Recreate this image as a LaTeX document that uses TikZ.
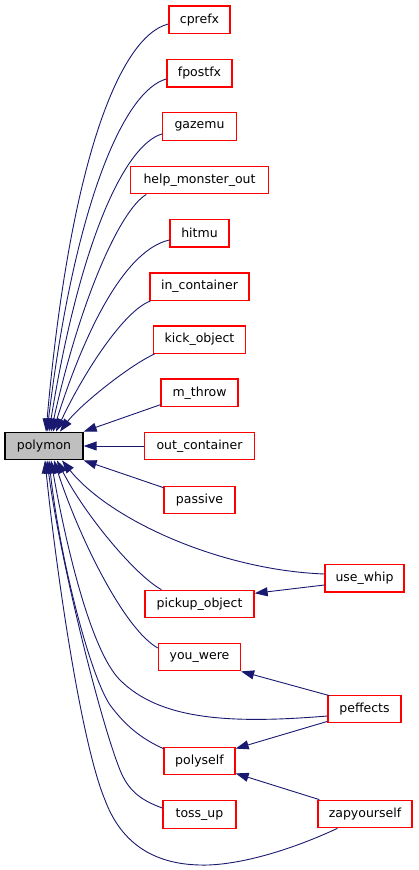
\documentclass[tikz,border=0pt]{standalone}
\usepackage{fontspec}
\setmainfont{DejaVu Sans}
\usetikzlibrary{arrows.meta}
\definecolor{edgeblue}{HTML}{191970}
\definecolor{boxred}{HTML}{FF0000}
\definecolor{rootgray}{HTML}{BFBFBF}
\tikzset{
  fn/.style={draw=boxred, line width=1.3pt, fill=white, minimum height=27.5pt, inner sep=0pt,
    font=\fontsize{12.5}{15}\selectfont},
  root/.style={fn, draw=black, fill=rootgray},
  edge/.style={draw=edgeblue, line width=0.9pt, {Triangle[length=13pt,width=9pt]}-},
}
\begin{document}
\begin{tikzpicture}[x=1pt,y=-1pt]
\useasboundingbox (0,0) rectangle (419,870);
\node[root, minimum width=78pt] (polymon) at (44,446) {polymon};
\node[fn, minimum width=61pt] (cprefx) at (199.5,19.7) {cprefx};
\node[fn, minimum width=65pt] (fpostfx) at (199.5,73.3) {fpostfx};
\node[fn, minimum width=74pt] (gazemu) at (199.5,126.5) {gazemu};
\node[fn, minimum width=138pt] (help) at (199.5,180) {help\_monster\_out};
\node[fn, minimum width=59pt] (hitmu) at (199.5,233.2) {hitmu};
\node[fn, minimum width=99pt] (incont) at (199.5,286.7) {in\_container};
\node[fn, minimum width=92pt] (kick) at (199.5,339.7) {kick\_object};
\node[fn, minimum width=77pt] (mthrow) at (199.5,392.8) {m\_throw};
\node[fn, minimum width=110pt] (outcont) at (199.5,446) {out\_container};
\node[fn, minimum width=71pt] (passive) at (199.5,500) {passive};
\node[fn, minimum width=79pt] (usewhip) at (364.5,578.3) {use\_whip};
\node[fn, minimum width=109pt] (pickup) at (199.5,604) {pickup\_object};
\node[fn, minimum width=82pt] (youwere) at (199.5,657) {you\_were};
\node[fn, minimum width=73pt] (peffects) at (364.5,709) {peffects};
\node[fn, minimum width=71pt] (polyself) at (199.5,761) {polyself};
\node[fn, minimum width=73pt] (tossup) at (199.5,814.5) {toss\_up};
\node[fn, minimum width=94pt] (zap) at (365,814) {zapyourself};

% upper fan
\draw[edge] ([xshift=2pt]polymon.north) .. controls (70,160) and (120,36) .. ([yshift=-4.3pt]cprefx.west);
\draw[edge] ([xshift=3pt]polymon.north) .. controls (75,200) and (125,90) .. ([yshift=-5.7pt]fpostfx.west);
\draw[edge] ([xshift=5pt]polymon.north) .. controls (80,240) and (125,145) .. ([yshift=-7.5pt]gazemu.west);
\draw[edge] ([xshift=7pt]polymon.north) .. controls (80,300) and (120,210) .. ([xshift=16.5pt]help.south west);
\draw[edge] ([xshift=9pt]polymon.north) .. controls (85,330) and (125,250) .. ([yshift=-6.8pt]hitmu.west);
\draw[edge] ([xshift=12pt]polymon.north) .. controls (85,370) and (125,310) .. ([xshift=1pt]incont.south west);
\draw[edge] ([xshift=16pt]polymon.north) .. controls (80,405) and (130,365) .. ([xshift=1.5pt]kick.south west);
\draw[edge] (polymon.north east) -- ([yshift=2.5pt]mthrow.south west);
\draw[edge] (polymon.east) -- (outcont.west);
\draw[edge] (polymon.south east) -- ([yshift=-2pt]passive.north west);

% lower fan
\draw[edge] ([xshift=18pt]polymon.south) .. controls (110,520) and (220,570) .. ([yshift=4.3pt]usewhip.west);
\draw[edge] ([xshift=13pt]polymon.south) .. controls (85,515) and (135,575) .. ([xshift=17pt]pickup.north west);
\draw[edge] ([xshift=10pt]polymon.south) .. controls (80,540) and (125,630) .. ([yshift=9pt]youwere.west);
\draw[edge] ([xshift=7pt]polymon.south) .. controls (65,540) and (90,650) .. (120,680)
  .. controls (160,720) and (230,724) .. ([yshift=-7pt]peffects.west);
\draw[edge] ([xshift=5pt]polymon.south) .. controls (60,560) and (90,675) .. (110,705)
  .. controls (125,725) and (140,738) .. ([yshift=-2pt]polyself.north west);
\draw[edge] ([xshift=3pt]polymon.south) .. controls (60,560) and (100,720) .. (120,770)
  .. controls (128,790) and (140,800) .. ([yshift=6.5pt]tossup.west);
\draw[edge] ([xshift=1pt]polymon.south) .. controls (55,560) and (80,740) .. (105,800)
  .. controls (120,840) and (150,864) .. (200,865)
  .. controls (230,866) and (280,855) .. ([xshift=20pt]zap.south west);

% cross edges
\draw[edge] ([yshift=10.7pt]pickup.east) -- ([yshift=-6.7pt]usewhip.west);
\draw[edge] (youwere.south east) -- ([xshift=2pt,yshift=-1pt]peffects.north west);
\draw[edge] ([yshift=-2pt]polyself.north east) -- ([yshift=2pt]peffects.south west);
\draw[edge] ([yshift=2pt]polyself.south east) -- ([xshift=2pt]zap.north west);
\end{tikzpicture}
\end{document}
